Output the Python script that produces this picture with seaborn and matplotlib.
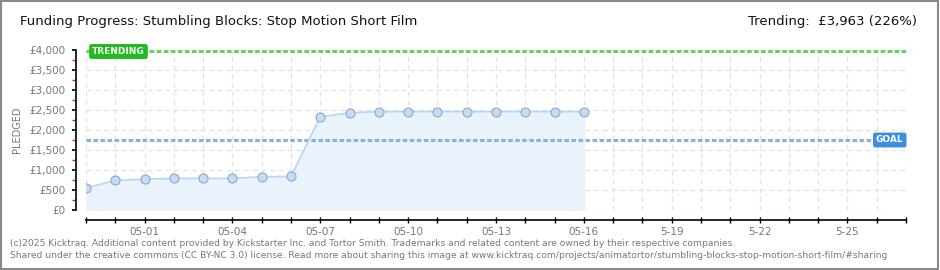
import matplotlib
matplotlib.use("Agg")
import matplotlib.pyplot as plt
import seaborn as sns
import pandas as pd
import numpy as np
from matplotlib.patches import Rectangle

dates = ["2025-04-29", "2025-04-30", "2025-05-01", "2025-05-02", "2025-05-03", "2025-05-04",
         "2025-05-05", "2025-05-06", "2025-05-07", "2025-05-08", "2025-05-09", "2025-05-10",
         "2025-05-11", "2025-05-12", "2025-05-13", "2025-05-14", "2025-05-15", "2025-05-16"]
pledged = [550, 740, 770, 790, 790, 790, 830, 840, 2330, 2430, 2460, 2460,
           2460, 2460, 2460, 2460, 2460, 2460]
goal = 1750
trending = 3963
tick_labels = ["05-01", "05-04", "05-07", "05-10", "05-13", "05-16", "5-19", "5-22", "5-25"]
ytick_values = [0, 500, 1000, 1500, 2000, 2500, 3000, 3500, 4000]
ytick_labels = ["£0", "£500", "£1,000", "£1,500", "£2,000", "£2,500", "£3,000", "£3,500", "£4,000"]

df = pd.DataFrame({"date": pd.to_datetime(dates), "pledged": pledged})

sns.set_style("white")
plt.rcParams['font.family'] = ['DejaVu Sans']

fig = plt.figure(figsize=(9.4, 2.7), dpi=100)
ax = fig.add_axes([86/940, 1-210/270, (906-86)/940, 160/270])

x0 = pd.Timestamp("2025-04-29")
x1 = pd.Timestamp("2025-05-27")

ax.fill_between(df["date"], df["pledged"], color="#eaf3fc", zorder=1)
sns.lineplot(data=df, x="date", y="pledged", ax=ax, color="#b9d5f2", linewidth=1.2,
             marker="o", markersize=6.5, markerfacecolor="#c3dcf7",
             markeredgecolor="#8fa8c4", markeredgewidth=0.8, zorder=3)

ax.axhline(trending, color="#5cd65c", linestyle=(0, (1.5, 0.8)), linewidth=2.2, zorder=2)
ax.axhline(goal, color="#8ab0dc", linestyle=(0, (1.5, 0.8)), linewidth=2.2, zorder=2)

ax.set_xlim(x0, x1)
ax.set_ylim(0, 4000)

day_ticks = pd.date_range(x0, x1, freq="D")
for d in day_ticks:
    ax.axvline(d, color="#e2e2e2", linestyle=(0, (4, 3)), linewidth=0.9, zorder=0)
for v in ytick_values:
    ax.axhline(v, color="#e2e2e2", linestyle=(0, (4, 3)), linewidth=0.9, zorder=0)

ax.set_xticks(day_ticks, minor=True)
major = pd.to_datetime(["2025-05-01", "2025-05-04", "2025-05-07", "2025-05-10", "2025-05-13",
                        "2025-05-16", "2025-05-19", "2025-05-22", "2025-05-25"])
ax.set_xticks(major)
ax.set_xticklabels(tick_labels)
ax.set_yticks(ytick_values)
ax.set_yticklabels(ytick_labels)
ax.set_yticks(np.arange(250, 4000, 500), minor=True)

for s in ["top", "right"]:
    ax.spines[s].set_visible(False)
ax.spines["left"].set_position(("outward", 7.5))
ax.spines["bottom"].set_position(("outward", 7.5))
for s in ["left", "bottom"]:
    ax.spines[s].set_color("black")
    ax.spines[s].set_linewidth(1.2)

ax.tick_params(axis="y", which="major", direction="out", length=3, width=1.2, color="black",
               labelsize=7.5, labelcolor="#777777", pad=4, left=True)
ax.tick_params(axis="y", which="minor", direction="out", length=3, width=1, color="#ee2222", left=True)
ax.tick_params(axis="x", which="both", direction="inout", length=5, width=1, color="black",
               labelsize=7.5, labelcolor="#777777", pad=2, bottom=True)
ax.set_xlabel("")
ax.set_ylabel("PLEDGED", fontsize=7, color="#777777")
ax.yaxis.set_label_coords((22-86)/820, 0.5)

ax.text(pd.Timestamp("2025-04-29 05:00"), trending, "TRENDING", fontsize=6.5, color="white",
        fontweight="bold", va="center", ha="left", zorder=5,
        bbox=dict(boxstyle="round,pad=0.25,rounding_size=0.2", fc="#1fbb1f", ec="#1fbb1f"))
ax.text(pd.Timestamp("2025-05-26 22:00"), goal, "GOAL", fontsize=6.5, color="white",
        fontweight="bold", va="center", ha="right", zorder=5,
        bbox=dict(boxstyle="round,pad=0.25,rounding_size=0.2", fc="#3d8ede", ec="#3d8ede"))

fig.text(20/940, 1-22/270, "Funding Progress: Stumbling Blocks: Stop Motion Short Film",
         fontsize=9.5, color="#111111", va="center", ha="left")
fig.text(917/940, 1-22/270, "Trending:  £3,963 (226%)", fontsize=9.5, color="#111111",
         va="center", ha="right")
fig.text(10/940, 1-243/270,
         "(c)2025 Kicktraq. Additional content provided by Kickstarter Inc. and Tortor Smith. Trademarks and related content are owned by their respective companies.",
         fontsize=6.6, color="#777777", va="center", ha="left")
fig.text(10/940, 1-256/270,
         "Shared under the creative commons (CC BY-NC 3.0) license. Read more about sharing this image at www.kicktraq.com/projects/animatortor/stumbling-blocks-stop-motion-short-film/#sharing",
         fontsize=6.6, color="#777777", va="center", ha="left")

fig.add_artist(Rectangle((0.001, 0.002), 0.997, 0.995, transform=fig.transFigure,
                         fill=False, ec="#888888", lw=1.5))

fig.savefig("out.png", dpi=100)
